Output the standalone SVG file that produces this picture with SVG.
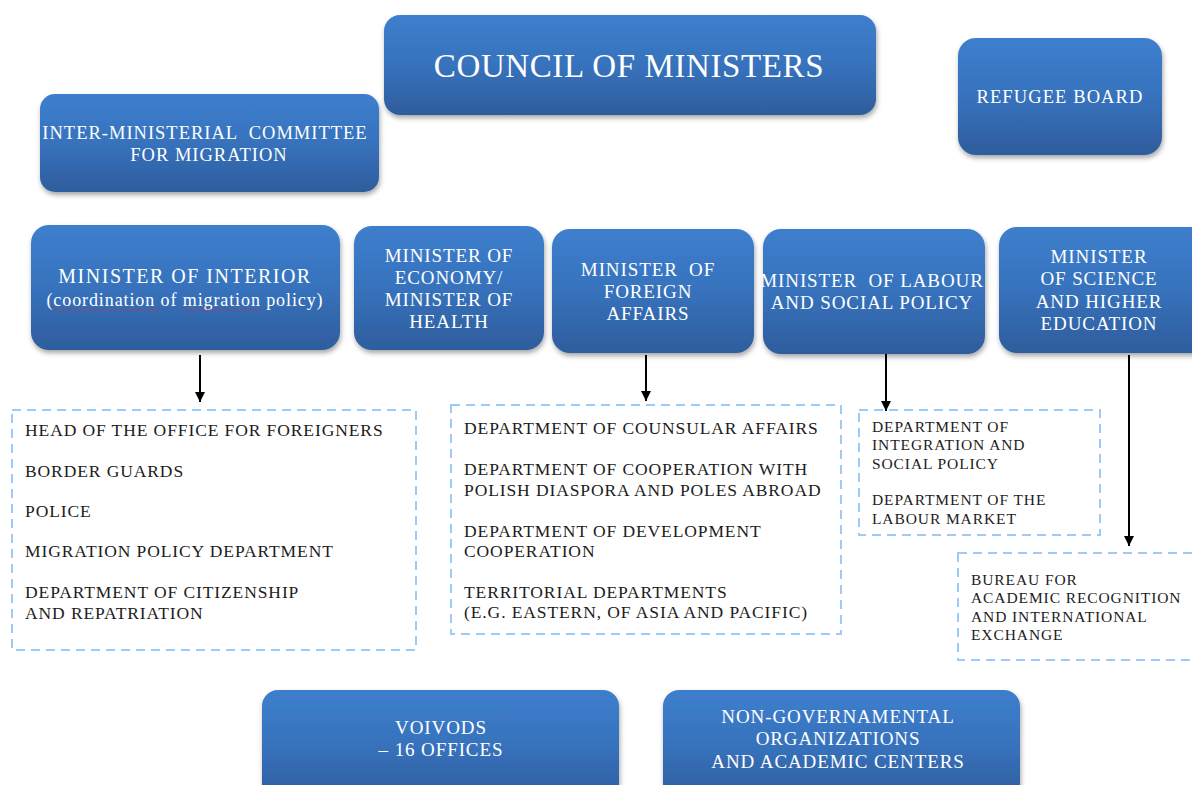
<svg xmlns="http://www.w3.org/2000/svg" width="1192" height="785" viewBox="0 0 1192 785">
<defs>
<linearGradient id="g" x1="0" y1="0" x2="0" y2="1">
<stop offset="0" stop-color="#3d7fcd"/>
<stop offset="0.5" stop-color="#3772bd"/>
<stop offset="1" stop-color="#2e5d9c"/>
</linearGradient>
<filter id="sh" x="-10%" y="-10%" width="120%" height="130%">
<feDropShadow dx="1" dy="3" stdDeviation="2.5" flood-color="#000" flood-opacity="0.35"/>
</filter>
<marker id="ah" markerWidth="10" markerHeight="10" refX="10" refY="5" orient="auto" markerUnits="userSpaceOnUse" viewBox="0 0 10 10">
<path d="M0,0 L10,5 L0,10 Z" fill="#000"/>
</marker>
<style>
.box{fill:url(#g);filter:url(#sh)}
.wt{font-family:"Liberation Serif","Times New Roman",serif;fill:#fff;text-anchor:middle;font-size:19px;letter-spacing:0.9px;white-space:pre}
.dash{fill:none;stroke:#9ccbf8;stroke-width:2;stroke-dasharray:9,6}
.dt{font-family:"Liberation Serif","Times New Roman",serif;fill:#1c1c1c;font-size:17.5px;letter-spacing:0.9px}
.st{font-family:"Liberation Serif","Times New Roman",serif;fill:#1c1c1c;font-size:15.5px;letter-spacing:0.9px}
.arr{stroke:#000;stroke-width:2;fill:none;marker-end:url(#ah)}
.wavy{fill:none;stroke:#e03030;stroke-width:1;stroke-dasharray:1.5,1.5}
</style>
</defs>
<rect width="1192" height="785" fill="#fff"/>

<g id="council">
<rect class="box" x="384" y="15" width="492" height="100" rx="16"/>
<text class="wt" x="629" y="77" style="font-size:33px;letter-spacing:0.6px">COUNCIL OF MINISTERS</text>
</g>
<g id="refugee-board">
<rect class="box" x="958" y="38" width="204" height="117" rx="18"/>
<text class="wt" x="1060" y="103" style="font-size:18.5px;letter-spacing:1.1px">REFUGEE BOARD</text>
</g>
<g id="inter-ministerial">
<rect class="box" x="40" y="94" width="339" height="98" rx="15"/>
<text class="wt" x="205" y="139" style="font-size:18.5px;letter-spacing:1px">INTER-MINISTERIAL  COMMITTEE</text>
<text class="wt" x="209" y="161" style="font-size:18.5px;letter-spacing:1px">FOR MIGRATION</text>
</g>
<g id="minister-interior">
<rect class="box" x="31" y="225" width="309" height="125" rx="18"/>
<text class="wt" x="185" y="283" style="font-size:20px;letter-spacing:1.5px">MINISTER OF INTERIOR</text>
<text class="wt" x="185" y="306" style="font-size:18px;letter-spacing:0.9px">(coordination of migration policy)</text>
<path class="wavy" d="M53,310 L159,310 M183,310 L263,310"/>
</g>
<g id="minister-economy">
<rect class="box" x="354" y="226" width="190" height="124" rx="18"/>
<text class="wt" x="449" y="262">MINISTER OF</text>
<text class="wt" x="449" y="284">ECONOMY/</text>
<text class="wt" x="449" y="306">MINISTER OF</text>
<text class="wt" x="449" y="328">HEALTH</text>
</g>
<g id="minister-foreign">
<rect class="box" x="552" y="229" width="202" height="124" rx="18"/>
<text class="wt" x="648" y="276">MINISTER  OF</text>
<text class="wt" x="648" y="298">FOREIGN</text>
<text class="wt" x="648" y="320">AFFAIRS</text>
</g>
<g id="minister-labour">
<rect class="box" x="763" y="229" width="222" height="125" rx="18"/>
<text class="wt" x="872" y="287">MINISTER  OF LABOUR</text>
<text class="wt" x="872" y="309">AND SOCIAL POLICY</text>
</g>
<g id="minister-science">
<rect class="box" x="999" y="227" width="210" height="126" rx="18"/>
<text class="wt" x="1099" y="263">MINISTER</text>
<text class="wt" x="1099" y="285">OF SCIENCE</text>
<text class="wt" x="1099" y="308">AND HIGHER</text>
<text class="wt" x="1099" y="330">EDUCATION</text>
</g>

<g id="interior-units">
<rect class="dash" x="12" y="410" width="404" height="240"/>
<text class="dt" x="25" y="436">HEAD OF THE OFFICE FOR FOREIGNERS</text>
<text class="dt" x="25" y="477">BORDER GUARDS</text>
<text class="dt" x="25" y="517">POLICE</text>
<text class="dt" x="25" y="557">MIGRATION POLICY DEPARTMENT</text>
<text class="dt" x="25" y="598">DEPARTMENT OF CITIZENSHIP</text>
<text class="dt" x="25" y="619">AND REPATRIATION</text>
</g>
<g id="foreign-units">
<rect class="dash" x="451" y="405" width="390" height="229"/>
<text class="dt" x="464" y="434">DEPARTMENT OF COUNSULAR AFFAIRS</text>
<text class="dt" x="464" y="475">DEPARTMENT OF COOPERATION WITH</text>
<text class="dt" x="464" y="496">POLISH DIASPORA AND POLES ABROAD</text>
<text class="dt" x="464" y="537">DEPARTMENT OF DEVELOPMENT</text>
<text class="dt" x="464" y="557">COOPERATION</text>
<text class="dt" x="464" y="598">TERRITORIAL DEPARTMENTS</text>
<text class="dt" x="464" y="618">(E.G. EASTERN, OF ASIA AND PACIFIC)</text>
</g>
<g id="labour-units">
<rect class="dash" x="859" y="410" width="241" height="125"/>
<text class="st" x="872" y="432">DEPARTMENT OF</text>
<text class="st" x="872" y="450">INTEGRATION AND</text>
<text class="st" x="872" y="469">SOCIAL POLICY</text>
<text class="st" x="872" y="505">DEPARTMENT OF THE</text>
<text class="st" x="872" y="524">LABOUR MARKET</text>
</g>
<g id="bureau">
<rect class="dash" x="958" y="553" width="250" height="107"/>
<text class="st" x="971" y="585">BUREAU FOR</text>
<text class="st" x="971" y="603">ACADEMIC RECOGNITION</text>
<text class="st" x="971" y="622">AND INTERNATIONAL</text>
<text class="st" x="971" y="640">EXCHANGE</text>
</g>

<g id="voivods">
<rect class="box" x="262" y="690" width="357" height="110" rx="16"/>
<text class="wt" x="441" y="734">VOIVODS</text>
<text class="wt" x="441" y="756">– 16 OFFICES</text>
</g>
<g id="ngo">
<rect class="box" x="663" y="690" width="357" height="110" rx="16"/>
<text class="wt" x="838" y="723">NON-GOVERNAMENTAL</text>
<text class="wt" x="838" y="745">ORGANIZATIONS</text>
<text class="wt" x="838" y="768">AND ACADEMIC CENTERS</text>
</g>

<g id="connectors">
<line class="arr" x1="200" y1="355" x2="200" y2="402"/>
<line class="arr" x1="646" y1="355" x2="646" y2="401"/>
<line class="arr" x1="886" y1="354" x2="886" y2="411"/>
<line class="arr" x1="1129" y1="355" x2="1129" y2="546"/>
</g>
</svg>
